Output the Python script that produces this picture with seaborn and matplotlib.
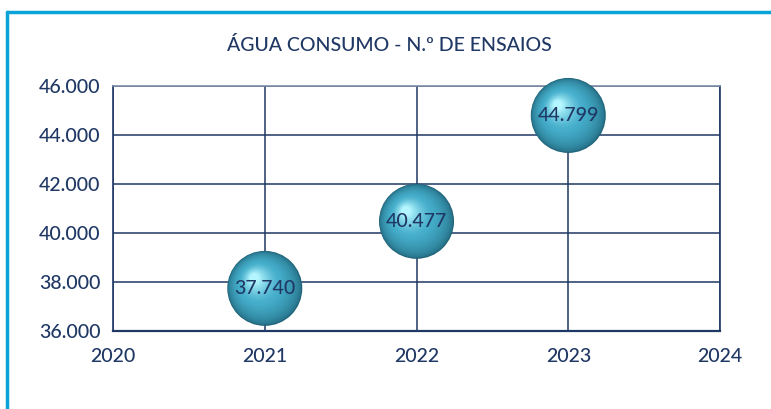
import matplotlib
matplotlib.use("Agg")
import matplotlib.pyplot as plt
import matplotlib.transforms as mtransforms
from matplotlib.colors import to_rgb
from matplotlib.lines import Line2D
import numpy as np
import pandas as pd
import seaborn as sns

# data
years = [2021, 2022, 2023]
ensaios = [37740, 40477, 44799]
x_ticks = [2020, 2021, 2022, 2023, 2024]
y_ticks = [36000, 38000, 40000, 42000, 44000, 46000]
title = "ÁGUA CONSUMO - N.º DE ENSAIOS"

navy = "#1f3864"
df = pd.DataFrame({"ano": years, "ensaios": ensaios})

sns.set_theme(style="white")
plt.rcParams["font.family"] = ["Lato", "DejaVu Sans"]

fig = plt.figure(figsize=(7.71, 4.09), dpi=100)
ax = fig.add_axes([0.1466, 0.1907, 0.7873, 0.599])

ax.set_xlim(2020, 2024)
ax.set_ylim(36000, 46000)
ax.set_xticks(x_ticks)
ax.set_yticks(y_ticks)
ax.set_xticklabels([str(t) for t in x_ticks])
ax.set_yticklabels([f"{t:,}".replace(",", ".") for t in y_ticks])
ax.grid(True, color=navy, linewidth=1.1)
ax.set_axisbelow(True)
for side in ["left", "right", "bottom"]:
    ax.spines[side].set_color(navy)
    ax.spines[side].set_linewidth(1.2)
ax.spines["bottom"].set_linewidth(1.6)
ax.spines["top"].set_color("#7f8da6")
ax.spines["top"].set_linewidth(1.2)
ax.tick_params(axis="x", length=0, pad=12, labelsize=14, labelcolor=navy)
ax.tick_params(axis="y", length=0, pad=9, labelsize=14, labelcolor=navy)
for lab in ax.get_xticklabels() + ax.get_yticklabels():
    lab.set_fontweight("medium")

# shaded spheres: stacked circles, shifted toward the upper left
dark = np.array(to_rgb("#1f6378"))
mid = np.array(to_rgb("#45aecb"))
light = np.array(to_rgb("#b4f6ff"))
d = 54.0
n = 40
for k in range(n):
    f = k / (n - 1)
    size = d * (1 - 0.88 * f)
    shift = d * 0.14 * f
    if f < 0.5:
        c = dark + (mid - dark) * (f / 0.5) ** 0.5
    else:
        c = mid + (light - mid) * ((f - 0.5) / 0.5) ** 1.4
    tr = ax.transData + mtransforms.ScaledTranslation(-shift / 72, shift / 72, fig.dpi_scale_trans)
    sns.scatterplot(data=df, x="ano", y="ensaios", s=size ** 2, color=tuple(c),
                    edgecolor="none", linewidth=0, transform=tr, ax=ax,
                    legend=False, clip_on=False, zorder=3 + k * 0.01)
ax.set_xlabel("")
ax.set_ylabel("")

for x, y in zip(years, ensaios):
    ax.text(x, y, f"{y:,}".replace(",", "."), ha="center", va="center",
            fontsize=14, fontweight="medium", color=navy, zorder=10)

fig.text(0.505, 0.89, title, ha="center", va="center", fontsize=14,
         fontweight="medium", color=navy)

# light blue frame (top and left edges)
frame = "#0aa3d8"
fig.add_artist(Line2D([0.009, 1.0], [0.971, 0.971], color=frame, linewidth=2.5,
                      transform=fig.transFigure))
fig.add_artist(Line2D([0.009, 0.009], [0.0, 0.971], color=frame, linewidth=2.5,
                      transform=fig.transFigure))

fig.savefig("out.png", dpi=100)
